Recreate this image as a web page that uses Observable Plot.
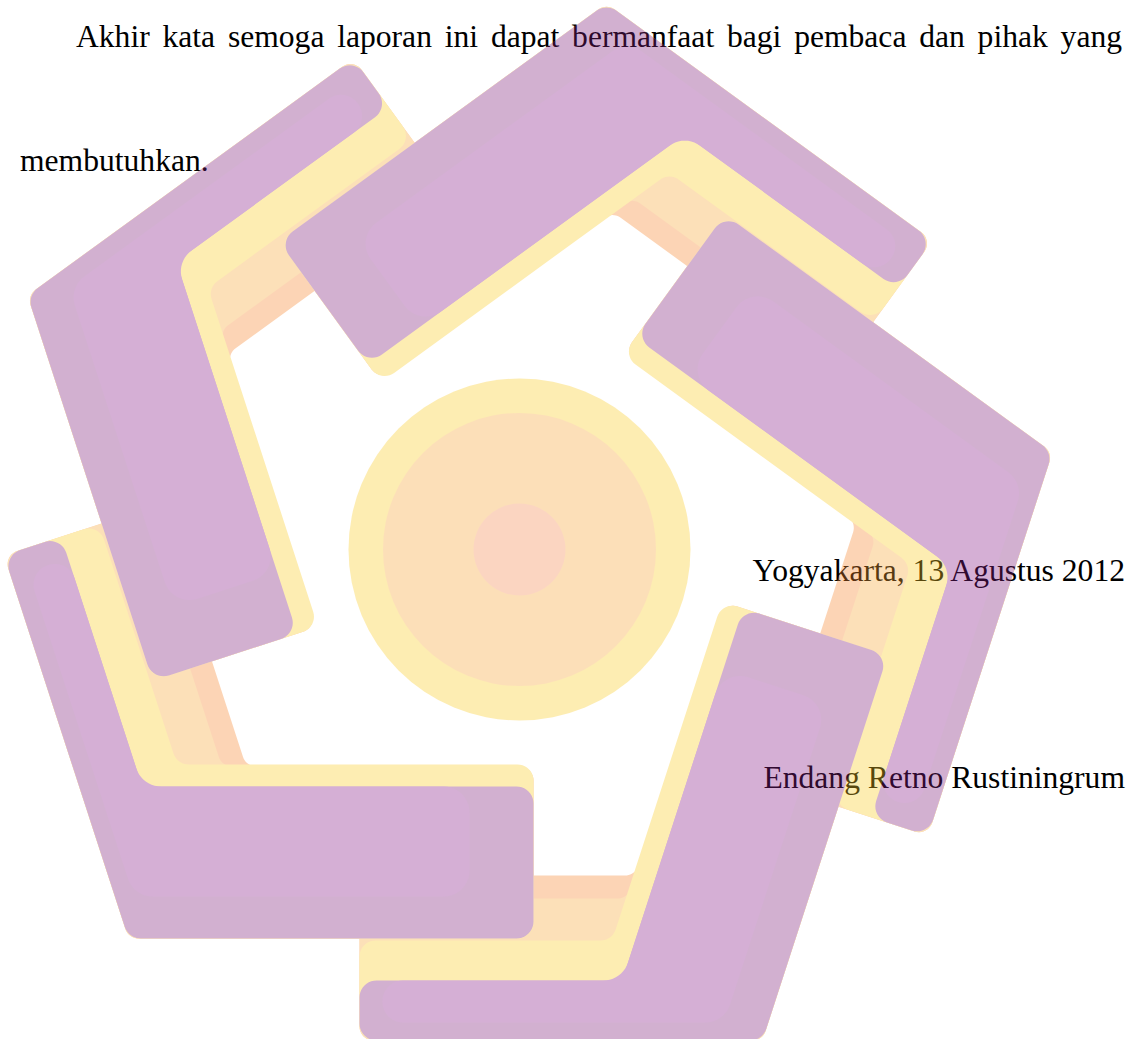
<!DOCTYPE html>
<html>
<head>
<meta charset="utf-8">
<script src="https://cdn.jsdelivr.net/npm/d3@7"></script>
<script src="https://cdn.jsdelivr.net/npm/@observablehq/plot@0.6"></script>
<style>
  html, body { margin: 0; padding: 0; background: #ffffff; }
  #page { position: relative; width: 1142px; height: 1039px; overflow: hidden;
          font-family: "Liberation Serif", "Times New Roman", serif; font-size: 31.6px; color: #000; }
  .ln { position: absolute; white-space: nowrap; line-height: 31.6px; }
  .just { text-align: justify; text-align-last: justify; white-space: normal; }
  #logo { position: absolute; left: 0; top: 0; }
</style>
</head>
<body>
<div id="page"></div>
<script>
// ---------- page size ----------
const W = 1142, H = 1039;

// ---------- text ----------
const paragraphLines = [
  "Akhir kata semoga laporan ini dapat bermanfaat bagi pembaca dan pihak yang",
  "membutuhkan."
];
const paragraphLeft = [76, 20];
const paragraphRight = [1122, null];
const paragraphBaseline = [47, 171];
const signatureLines = ["Yogyakarta, 13 Agustus 2012", "Endang Retno Rustiningrum"];
const signatureRight = [1125, 1125];
const signatureBaseline = [581, 788];

// ---------- watermark logo: five bent bars (pinwheel) ----------
const pieceName = ["A", "B", "C", "D", "E"];
const apexX = [27, 606, 1052, 762, 128];
const apexY = [295, 3, 452, 1040, 938];
const pieceTurn = [72, 144, 216, 288, 0];        // degrees, relative to piece E

// layers of every bar, bottom to top
const layerName   = ["orange", "lightOrange", "yellow", "purple", "highlight"];
const layerColor  = ["rgb(249,135,46)", "rgb(249,167,55)", "rgb(252,204,38)", "rgb(129,32,124)", "rgb(137,30,138)"];
const thickOuter  = [0, 0, 0, 0, 42];
const thickInner  = [172, 172, 174, 152, 152];
const thinOuter   = [0, 0, 0, 0, 18];
const thinInner   = [165, 142, 100, 60, 60];
const thickLength = [405, 405, 405, 405, 341];
const thinLength  = [403, 403, 403, 403, 380];
const cornerR     = [14, 14, 16, 17, 26];

// centre disks
const diskX = [519, 519, 519];
const diskY = [549, 549, 549];
const diskR = [171, 136.5, 46];
const diskColor = ["rgb(252,204,38)", "rgb(249,166,55)", "rgb(246,138,81)"];

const logoOpacity = 0.35;

// ---------- geometry helpers ----------
const deg = Math.PI / 180;
function rot([x, y], a) { const c = Math.cos(a * deg), s = Math.sin(a * deg); return [x * c - y * s, x * s + y * c]; }
const baseU1 = [1, 0], baseN1 = [0, -1];
const baseU2 = [Math.cos(252 * deg), Math.sin(252 * deg)];
const baseN2 = [Math.cos(342 * deg), Math.sin(342 * deg)];

function chevron(P, turn, a1, b1, a2, b2, L1, L2) {
  const u1 = rot(baseU1, turn), n1 = rot(baseN1, turn), u2 = rot(baseU2, turn), n2 = rot(baseN2, turn);
  const det = n1[0] * n2[1] - n1[1] * n2[0];
  const inter = (c1, c2) => [P[0] + (c1 * n2[1] - n1[1] * c2) / det, P[1] + (n1[0] * c2 - c1 * n2[0]) / det];
  const at = (u, L, n, o) => [P[0] + u[0] * L + n[0] * o, P[1] + u[1] * L + n[1] * o];
  return [
    at(u1, L1, n1, a1),
    inter(a1, a2),
    at(u2, L2, n2, a2),
    at(u2, L2, n2, b2),
    inter(b1, b2),
    at(u1, L1, n1, b1)
  ];
}

function roundPoly(pts, r, steps = 10) {
  const out = [], n = pts.length;
  for (let i = 0; i < n; i++) {
    const V = pts[i], Pp = pts[(i - 1 + n) % n], N = pts[(i + 1) % n];
    let ax = Pp[0] - V[0], ay = Pp[1] - V[1]; const la = Math.hypot(ax, ay); ax /= la; ay /= la;
    let bx = N[0] - V[0], by = N[1] - V[1]; const lb = Math.hypot(bx, by); bx /= lb; by /= lb;
    const phi = Math.acos(Math.max(-1, Math.min(1, ax * bx + ay * by)));
    let rr = r, t = rr / Math.tan(phi / 2);
    const tmax = Math.min(la, lb) / 2.05;
    if (t > tmax) { t = tmax; rr = t * Math.tan(phi / 2); }
    const T1 = [V[0] + ax * t, V[1] + ay * t], T2 = [V[0] + bx * t, V[1] + by * t];
    let mx = ax + bx, my = ay + by; const lm = Math.hypot(mx, my); mx /= lm; my /= lm;
    const d = rr / Math.sin(phi / 2);
    const C = [V[0] + mx * d, V[1] + my * d];
    const s1 = Math.atan2(T1[1] - C[1], T1[0] - C[0]);
    let da = Math.atan2(T2[1] - C[1], T2[0] - C[0]) - s1;
    while (da > Math.PI) da -= 2 * Math.PI;
    while (da < -Math.PI) da += 2 * Math.PI;
    for (let k = 0; k <= steps; k++) {
      const a = s1 + da * k / steps;
      out.push([C[0] + rr * Math.cos(a), C[1] + rr * Math.sin(a)]);
    }
  }
  return out;
}

// build a table of polygon points for each layer
const layerRows = layerName.map((layer, li) => {
  const rows = [];
  pieceName.forEach((piece, pi) => {
    const poly = chevron([apexX[pi], apexY[pi]], pieceTurn[pi],
      thickOuter[li], thickInner[li], thinOuter[li], thinInner[li], thickLength[li], thinLength[li]);
    roundPoly(poly, cornerR[li]).forEach(([x, y]) => rows.push({piece, layer, x, y}));
  });
  return rows;
});

const disks = diskR.map((r, i) => ({x: diskX[i], y: diskY[i], r, color: diskColor[i]}));

const marks = [];
disks.forEach(d => marks.push(Plot.dot([d], {x: "x", y: "y", r: d.r, fill: d.color, stroke: "none"})));
layerName.forEach((layer, li) => {
  marks.push(Plot.line(layerRows[li], {
    x: "x", y: "y", z: "piece", curve: "linear-closed",
    fill: layerColor[li], stroke: "none"
  }));
});

const logo = Plot.plot({
  width: W, height: H,
  margin: 0,
  x: {domain: [0, W], range: [0, W], axis: null},
  y: {domain: [0, H], range: [0, H], axis: null},
  marks
});
logo.id = "logo";
logo.style.background = "transparent";
logo.style.opacity = logoOpacity;
logo.style.position = "absolute";
logo.style.left = "0px";
logo.style.top = "0px";
logo.style.maxWidth = "none";

// ---------- assemble page: text below, translucent logo above ----------
const page = document.getElementById("page");
const asc = 26.5; // baseline offset inside a 31.6px line box
paragraphLines.forEach((t, i) => {
  const d = document.createElement("div");
  d.className = "ln" + (paragraphRight[i] ? " just" : "");
  d.textContent = t;
  d.style.left = paragraphLeft[i] + "px";
  d.style.top = (paragraphBaseline[i] - asc) + "px";
  if (paragraphRight[i]) d.style.width = (paragraphRight[i] - paragraphLeft[i]) + "px";
  page.appendChild(d);
});
signatureLines.forEach((t, i) => {
  const d = document.createElement("div");
  d.className = "ln";
  d.textContent = t;
  d.style.right = (W - signatureRight[i]) + "px";
  d.style.top = (signatureBaseline[i] - asc) + "px";
  page.appendChild(d);
});
page.appendChild(logo);
</script>
</body>
</html>
